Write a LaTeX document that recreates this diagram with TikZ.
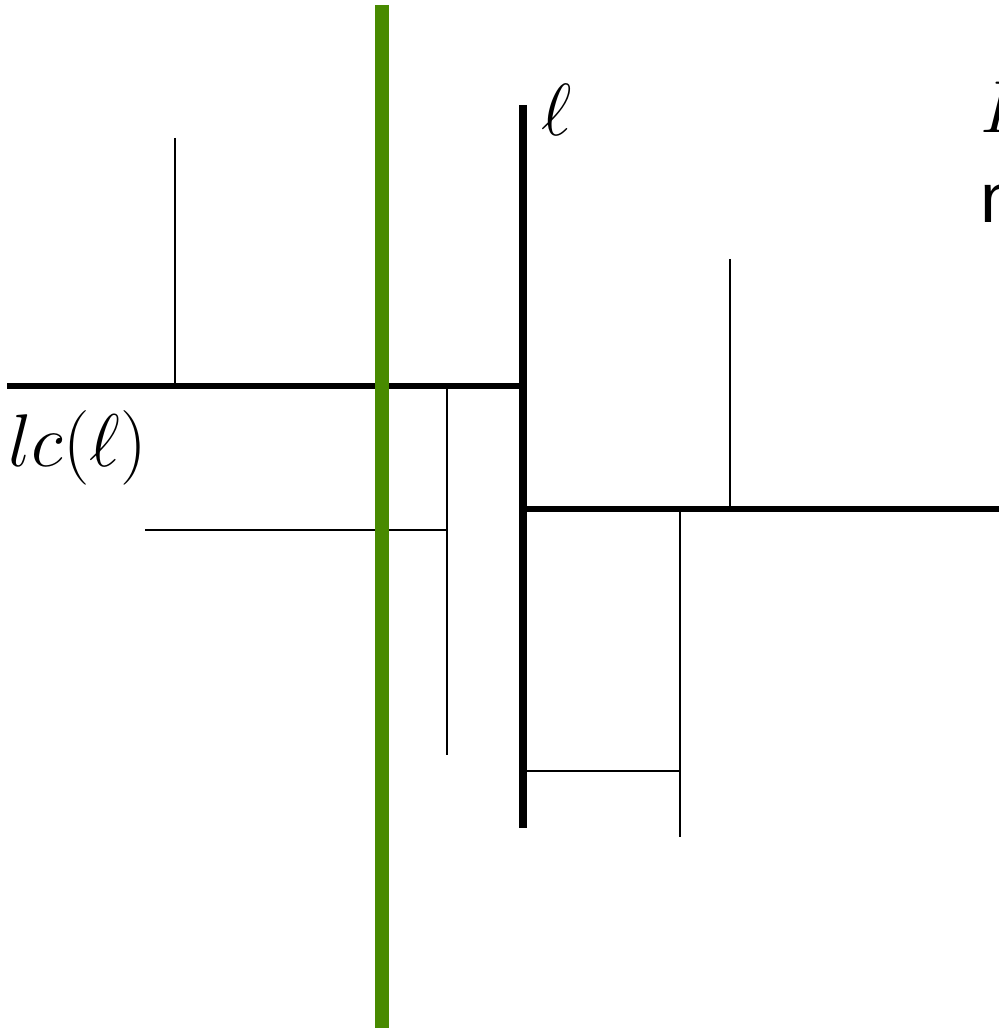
\RequirePackage{fix-cm}
\documentclass[tikz,border=0pt]{standalone}
\usepackage{fontspec}
\newfontfamily\labsans{Liberation Sans}
\definecolor{cutgreen}{RGB}{72,138,0}
\tikzset{
  thickseg/.style={line width=3.7pt, line cap=butt},
  ellseg/.style={line width=5pt, line cap=butt},
  thinseg/.style={line width=1.6pt, line cap=butt},
  cutline/.style={line width=8.5pt, cutgreen, line cap=butt},
  lab/.style={inner sep=0pt, anchor=base west}
}
\begin{document}
\begin{tikzpicture}[x=0.02cm, y=-0.02cm]
\useasboundingbox (0,0) rectangle (999,1030);
% coordinates
\coordinate (lcL) at (7,386);
\coordinate (lcR) at (523,386);
\coordinate (ellT) at (523,105);
\coordinate (ellB) at (523,828);
\coordinate (rL) at (523,509);
\coordinate (rR) at (1005,509);
\coordinate (aT) at (175,138);
\coordinate (aB) at (175,386);
\coordinate (bT) at (447,386);
\coordinate (bB) at (447,755);
\coordinate (cL) at (145,530);
\coordinate (cR) at (447,530);
\coordinate (dT) at (730,259);
\coordinate (dB) at (730,509);
\coordinate (eT) at (680,509);
\coordinate (eB) at (680,837);
\coordinate (fL) at (523,771);
\coordinate (fR) at (680,771);
\coordinate (gT) at (382,5);
\coordinate (gB) at (382,1028);
% thin segments
\draw[thinseg] (aT) -- (aB);
\draw[thinseg] (bT) -- (bB);
\draw[thinseg] (cL) -- (cR);
\draw[thinseg] (dT) -- (dB);
\draw[thinseg] (eT) -- (eB);
\draw[thinseg] (fL) -- (fR);
% thick segments
\draw[thickseg] (lcL) -- (lcR);
\draw[thickseg] (rL) -- (rR);
\draw[ellseg] (ellT) -- (ellB);
% green cut
\draw[cutline] (gT) -- (gB);
% labels
\node[lab] (lclab) at (8,466) {\fontsize{42.5}{48}\selectfont $lc(\ell)$};
\node[lab] (elllab) at (541,136) {\fontsize{42}{48}\selectfont $\ell$};
\node[lab] (Llab) at (980,133) {\fontsize{42}{48}\selectfont $L$};
\node[lab] (nlab) at (980,223) {\fontsize{40}{46}\selectfont\labsans n};
\end{tikzpicture}
\end{document}
